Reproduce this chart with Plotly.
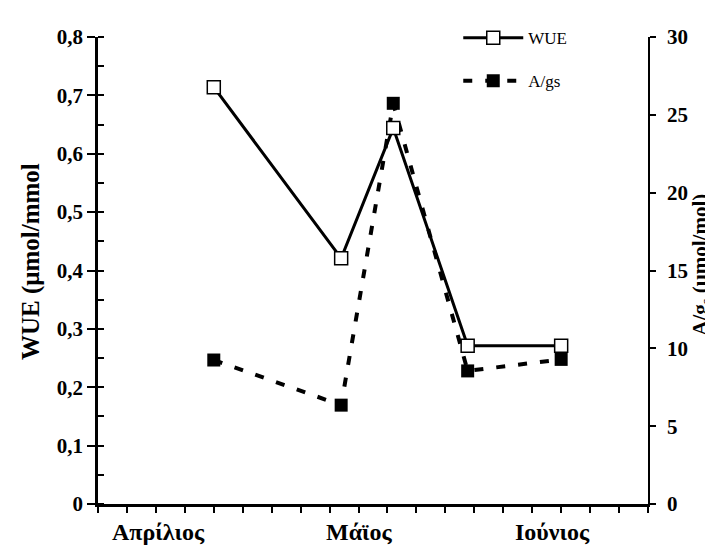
import plotly.graph_objects as go

# ---- data ----
months = ["Απρίλιος", "Μάϊος", "Ιούνιος"]
month_pos = [2.1, 9.0, 15.7]
x_pos = [4.0, 8.4, 10.2, 12.77, 16.0]
wue = [0.714, 0.421, 0.644, 0.271, 0.271]
a_gs = [9.25, 6.35, 25.74, 8.55, 9.29]
x_ticks = list(range(20))
left_ticks = [0, 0.1, 0.2, 0.3, 0.4, 0.5, 0.6, 0.7, 0.8]
left_labels = ["0", "0,1", "0,2", "0,3", "0,4", "0,5", "0,6", "0,7", "0,8"]
right_ticks = [0, 5, 10, 15, 20, 25, 30]

FONT = "Liberation Serif"

fig = go.Figure()
fig.add_trace(go.Scatter(
    x=x_pos, y=wue, name="WUE", yaxis="y2", legendgroup="a",
    mode="lines+markers",
    line=dict(color="black", width=3),
    marker=dict(symbol="square", size=13, color="white",
                line=dict(color="black", width=1.5)),
))
fig.add_trace(go.Scatter(
    x=x_pos, y=a_gs, name="A/gs", yaxis="y", legendgroup="b",
    mode="lines+markers",
    line=dict(color="black", width=4, dash="9px,13px"),
    marker=dict(symbol="square", size=13, color="black",
                line=dict(color="black", width=0)),
))

tickfont = dict(family=FONT, size=21, color="black", weight="bold")

fig.update_layout(
    width=713, height=552,
    margin=dict(l=90, r=73, t=19, b=56),
    plot_bgcolor="white", paper_bgcolor="white",
    showlegend=True,
    legend=dict(x=0.655, y=1.036, xanchor="left", yanchor="top",
                font=dict(family=FONT, size=17, color="black"),
                bgcolor="rgba(0,0,0,0)", traceorder="grouped",
                tracegroupgap=18, itemwidth=60),
    xaxis=dict(range=[0, 19], tickvals=x_ticks, showticklabels=False,
               ticks="outside", ticklen=6, tickwidth=2, tickcolor="black",
               showline=True, linecolor="black", linewidth=2.5,
               showgrid=False, zeroline=False),
    yaxis=dict(side="right", range=[0, 30], tickvals=right_ticks,
               ticks="outside", ticklen=6, tickwidth=1.5, tickcolor="black",
               showline=True, linecolor="black", linewidth=1.5,
               showgrid=False, zeroline=False, tickfont=tickfont,
               ticklabelstandoff=7),
    yaxis2=dict(side="left", overlaying="y", anchor="x", range=[0, 0.8],
                tickvals=left_ticks, ticktext=left_labels,
                ticks="outside", ticklen=8, tickwidth=2, tickcolor="black",
                minor=dict(ticks="inside", ticklen=6, tickwidth=2,
                           tickcolor="black", dtick=0.05, tick0=0),
                showline=True, linecolor="black", linewidth=2.5,
                showgrid=False, zeroline=False, tickfont=tickfont),
)

annotations = []
for m, p in zip(months, month_pos):
    annotations.append(dict(text=m, x=p, xref="x",
                            y=-0.061, yref="paper", yanchor="middle",
                            showarrow=False,
                            font=dict(family=FONT, size=24, color="black",
                                      weight="bold")))
annotations.append(dict(text="WUE (μmol/mmol", x=-0.122, xref="paper",
                        y=0.52, yref="paper", textangle=-90, showarrow=False,
                        xanchor="center", yanchor="middle",
                        font=dict(family=FONT, size=25, color="black",
                                  weight="bold")))
annotations.append(dict(text="A/g<sub>s</sub> (μmol/mol)", x=1.124,
                        xref="paper", y=0.513, yref="paper", textangle=-90,
                        showarrow=False, xanchor="right", yanchor="middle",
                        font=dict(family=FONT, size=21, color="black",
                                  weight="bold")))
fig.update_layout(annotations=annotations)

fig.write_html("out.html")
